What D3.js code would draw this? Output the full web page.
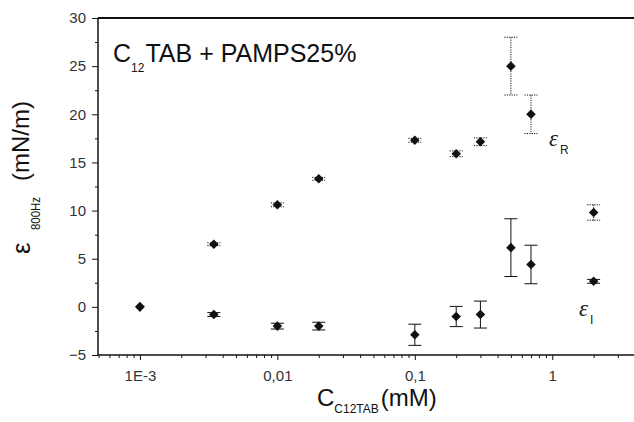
<!DOCTYPE html>
<html>
<head>
<meta charset="utf-8">
<script src="https://cdn.jsdelivr.net/npm/d3@7"></script>
<style>
  html, body { margin: 0; padding: 0; background: #fff; }
  svg { display: block; font-family: 'Liberation Sans', Arial, sans-serif; }
</style>
</head>
<body>
<svg id="chart" width="634" height="422"></svg>
<script>
// concentration C12TAB (mM)
const conc = [0.001, 0.00345, 0.01, 0.02, 0.1, 0.2, 0.3, 0.5, 0.7, 2];
// epsilon_R series + error
const epsR = [0, 6.5, 10.6, 13.3, 17.3, 15.9, 17.15, 25.0, 20.0, 9.8];
const epsRErr = [0, 0.15, 0.2, 0.15, 0.2, 0.3, 0.4, 3.0, 2.0, 0.8];
// epsilon_I series + error
const epsI = [0, -0.8, -2.0, -2.0, -2.9, -1.0, -0.8, 6.15, 4.4, 2.65];
const epsIErr = [0, 0.2, 0.3, 0.4, 1.1, 1.05, 1.4, 3.0, 2.0, 0.2];

const xTicks = [0.001, 0.01, 0.1, 1];
const xTickLabels = ['1E-3', '0,01', '0,1', '1'];
const yTicks = [-5, 0, 5, 10, 15, 20, 25, 30];

const plotL = 98, plotR = 632, plotT = 18, plotB = 355;

const svg = d3.select('#chart');

const x = d3.scaleLog()
  .domain([Math.pow(10, -3.305), Math.pow(10, 0.58)])
  .range([plotL, plotR]);

const y = d3.scaleLinear()
  .domain([-5, 30])
  .range([plotB, plotT]);

// minor ticks
const xMinor = x.ticks().filter(v => !xTicks.includes(v));
const yMinor = d3.range(-2.5, 30, 5);

svg.append('g')
  .attr('transform', `translate(0,${plotB})`)
  .call(d3.axisBottom(x).tickValues(xMinor).tickSize(3).tickFormat('').tickSizeOuter(0))
  .call(g => g.select('.domain').remove());

const xAxis = svg.append('g')
  .attr('transform', `translate(0,${plotB})`)
  .call(d3.axisBottom(x).tickValues(xTicks).tickSize(5).tickSizeOuter(0)
    .tickFormat((d, i) => xTickLabels[i]));
xAxis.select('.domain').remove();
xAxis.selectAll('text')
  .attr('font-size', '15px')
  .attr('font-family', 'Liberation Sans')
  .attr('fill', '#333')
  .attr('dy', '1.2em');

svg.append('g')
  .attr('transform', `translate(${plotL},0)`)
  .call(d3.axisLeft(y).tickValues(yMinor).tickSize(3).tickFormat('').tickSizeOuter(0))
  .call(g => g.select('.domain').remove());

const yAxis = svg.append('g')
  .attr('transform', `translate(${plotL},0)`)
  .call(d3.axisLeft(y).tickValues(yTicks).tickSize(6).tickSizeOuter(0));
yAxis.select('.domain').remove();
yAxis.selectAll('text')
  .attr('font-size', '15px')
  .attr('font-family', 'Liberation Sans')
  .attr('fill', '#333')
  .attr('x', -12);

svg.selectAll('.tick line').attr('stroke', '#111');

// frame lines
svg.append('line').attr('x1', plotL).attr('x2', 634).attr('y1', plotB).attr('y2', plotB)
  .attr('stroke', '#111').attr('stroke-width', 1.5);
svg.append('line').attr('x1', plotL).attr('x2', 634).attr('y1', plotT).attr('y2', plotT)
  .attr('stroke', '#111').attr('stroke-width', 1.8);
svg.append('line').attr('x1', plotL).attr('x2', plotL).attr('y1', plotT).attr('y2', plotB)
  .attr('stroke', '#111').attr('stroke-width', 1.5);

// error bars + markers
function drawSeries(vals, errs, dash) {
  const data = conc.map((c, i) => ({ c, v: vals[i], e: errs[i] }));
  const eg = svg.append('g').attr('stroke', '#111').attr('stroke-width', 1)
    .attr('stroke-dasharray', dash);
  const withErr = data.filter(d => d.e > 0);
  eg.selectAll('line.v').data(withErr).enter().append('line')
    .attr('x1', d => x(d.c)).attr('x2', d => x(d.c))
    .attr('y1', d => y(d.v + d.e)).attr('y2', d => y(d.v - d.e));
  eg.selectAll('line.t').data(withErr).enter().append('line')
    .attr('x1', d => x(d.c) - 6.5).attr('x2', d => x(d.c) + 6.5)
    .attr('y1', d => y(d.v + d.e)).attr('y2', d => y(d.v + d.e));
  eg.selectAll('line.b').data(withErr).enter().append('line')
    .attr('x1', d => x(d.c) - 6.5).attr('x2', d => x(d.c) + 6.5)
    .attr('y1', d => y(d.v - d.e)).attr('y2', d => y(d.v - d.e));

  svg.append('g').selectAll('path').data(data).enter().append('path')
    .attr('d', d3.symbol(d3.symbolDiamond2, 58))
    .attr('transform', d => `translate(${x(d.c)},${y(d.v)})`)
    .attr('fill', '#111');
}
drawSeries(epsR, epsRErr, '1.2,1.2');
drawSeries(epsI, epsIErr, null);

// title inside plot
const title = svg.append('text')
  .attr('x', 113).attr('y', 62)
  .attr('font-size', '25px').attr('fill', '#111');
title.append('tspan').text('C');
title.append('tspan').attr('font-size', '12px').attr('dy', 10).text('12');
title.append('tspan').attr('dy', -10).attr('dx', 1).text('TAB + PAMPS25%');

// series labels
function seriesLabel(px, py, sub) {
  const t = svg.append('text').attr('x', px).attr('y', py)
    .attr('font-family', 'Liberation Serif').attr('font-style', 'italic')
    .attr('font-size', '23px').attr('fill', '#222');
  t.append('tspan').text('ε');
  t.append('tspan').attr('font-size', '12px').attr('dy', 8).attr('dx', 2).attr('font-style', 'normal')
    .attr('font-family', 'Liberation Sans').text(sub);
}
seriesLabel(549, 146, 'R');
seriesLabel(579, 316, 'I');

// y axis title (rotated, pieces placed separately)
svg.append('text')
  .attr('transform', 'translate(30,254) rotate(-90)')
  .attr('font-size', '26px').attr('fill', '#111')
  .text('ε');
svg.append('text')
  .attr('transform', 'translate(40,230) rotate(-90)')
  .attr('font-size', '13px').attr('fill', '#111')
  .attr('textLength', 33).attr('lengthAdjust', 'spacingAndGlyphs')
  .text('800Hz');
svg.append('text')
  .attr('transform', 'translate(29,181) rotate(-90)')
  .attr('font-size', '24px').attr('fill', '#111')
  .attr('textLength', 80).attr('lengthAdjust', 'spacingAndGlyphs')
  .text('(mN/m)');

// x axis title
const xt = svg.append('text')
  .attr('x', 317).attr('y', 406)
  .attr('font-size', '24px').attr('fill', '#111');
xt.append('tspan').text('C');
xt.append('tspan').attr('font-size', '12px').attr('dy', 7).text('C12TAB');
xt.append('tspan').attr('dy', -7).attr('dx', 2).text('(mM)');
</script>
</body>
</html>
